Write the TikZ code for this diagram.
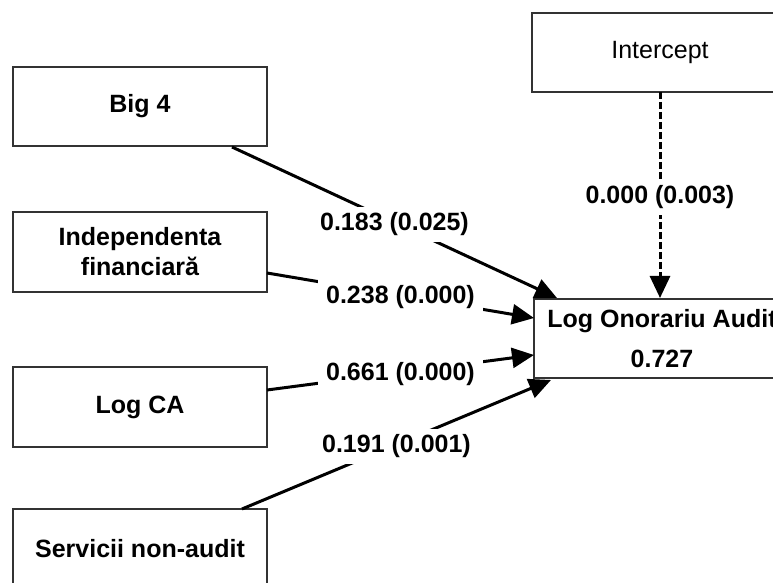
\documentclass[tikz,border=0pt]{standalone}
\usepackage{fontspec}
\setmainfont{Liberation Sans}
\usetikzlibrary{arrows.meta}
\begin{document}
\begin{tikzpicture}[x=1pt,y=1pt,
  box/.style={draw=black!80, line width=2pt, fill=white, minimum height=79pt, minimum width=254pt, inner sep=0pt, align=center, font=\fontsize{25}{30}\selectfont\bfseries},
  conn/.style={line width=3pt, -{Triangle[length=22pt,width=20pt]}},
  lbl/.style={fill=white, inner xsep=8pt, inner ysep=6pt, yshift=-2pt, font=\fontsize{25}{30}\selectfont\bfseries}]
\useasboundingbox (0,0) rectangle (773,583);
\clip (0,0) rectangle (773,583);
% boxes
\node[box] (big) at (140,476.5) {Big 4};
\node[box, minimum height=80pt] (ind) at (140,331) {Independenta\\financiară};
\node[box, minimum height=80pt] (lca) at (140,176) {Log CA};
\node[box, minimum height=80pt] (serv) at (140,34) {Servicii non-audit};
\node[box, minimum width=256pt, font=\fontsize{25}{30}\selectfont] (icp) at (660,530.5) {Intercept};
\node[box, minimum width=256pt] (loa) at (662,244.5) {Log Onorariu Audit\\[10pt]0.727};
% connector ends
\coordinate (s1) at (232,436);
\coordinate (e1) at (557,285);
\coordinate (s2) at (267,310);
\coordinate (e2) at (534,265);
\coordinate (s3) at (267,193);
\coordinate (e3) at (534,228);
\coordinate (s4) at (242,74);
\coordinate (e4) at (551,203);
\coordinate (s5) at (660,491);
\coordinate (e5) at (660,285);
% connectors
\draw[conn] (s1) -- node[lbl] {0.183 (0.025)} (e1);
\draw[conn] (s2) -- node[lbl] {0.238 (0.000)} (e2);
\draw[conn] (s3) -- node[lbl] {0.661 (0.000)} (e3);
\draw[conn] (s4) -- node[lbl] {0.191 (0.001)} (e4);
\draw[conn, dash pattern=on 7pt off 3pt] (s5) -- node[lbl, inner xsep=2pt] {0.000 (0.003)} (e5);
\end{tikzpicture}
\end{document}
